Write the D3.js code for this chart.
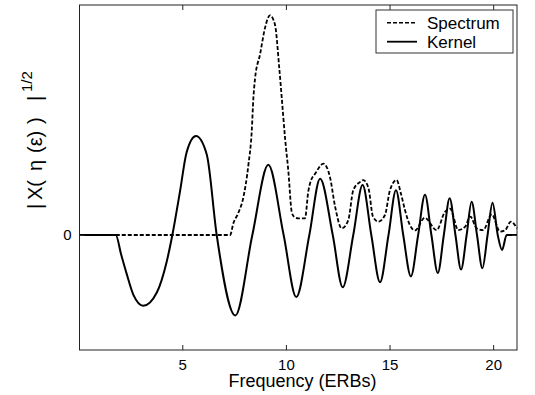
<!DOCTYPE html>
<html>
  <head>
    <meta charset="utf-8">
    <script src="https://cdn.jsdelivr.net/npm/d3@7"></script>
    <style>
      body { margin: 0; background: #fff; }
      text { font-family: "Liberation Sans", Arial, Helvetica, sans-serif; fill: #000; }
    </style>
  </head>
<body>
  <script type="text/javascript">
    // values (x in ERBs, y in arbitrary units)
    var kernel = [
      [0.04, 0], [1.79, 0], [2.05, -0.17], [2.32, -0.34], [2.64, -0.52], [3.12, -0.615],
      [3.77, -0.5], [4.25, -0.23], [4.52, 0], [4.89, 0.38], [5.21, 0.72], [5.66, 0.86],
      [6.18, 0.7], [6.66, 0], [7.56, -0.70], [8.38, 0], [9.15, 0.61], [9.89, 0],
      [10.5, -0.54], [11.13, 0], [11.65, 0.49], [12.26, 0], [12.74, -0.455], [13.25, 0],
      [13.70, 0.435], [14.12, 0], [14.54, -0.41], [14.95, 0], [15.31, 0.39], [15.66, 0],
      [16.03, -0.36], [16.38, 0], [16.71, 0.35], [17.02, 0], [17.33, -0.33], [17.62, 0],
      [17.9, 0.32], [18.18, 0], [18.45, -0.30], [18.72, 0], [18.96, 0.29], [19.22, 0],
      [19.48, -0.29], [19.73, 0], [19.97, 0.28], [20.22, 0], [20.43, -0.13], [20.65, 0],
      [21.15, 0]
    ];

    var spectrum = [
      [1.79, 0], [7.31, 0], [7.46, 0.10], [7.7, 0.19], [7.95, 0.33], [8.19, 0.61],
      [8.35, 0.90], [8.43, 1.19], [8.51, 1.36], [8.75, 1.57], [8.99, 1.80], [9.23, 1.91],
      [9.47, 1.83], [9.68, 1.45], [9.80, 1.19], [9.96, 0.84], [10.12, 0.55], [10.28, 0.20],
      [10.39, 0.16], [10.6, 0.145], [10.92, 0.145], [11.08, 0.38], [11.2, 0.47], [11.4, 0.53],
      [11.81, 0.62], [12.13, 0.50], [12.37, 0.25], [12.69, 0.058], [13.01, 0.13], [13.25, 0.39],
      [13.57, 0.46], [13.73, 0.478], [13.98, 0.41], [14.2, 0.16], [14.46, 0.116], [14.78, 0.174],
      [15.02, 0.39], [15.34, 0.478], [15.55, 0.36], [15.74, 0.22], [15.98, 0.087], [16.23, 0.04],
      [16.7, 0.15], [17.27, 0.043], [17.67, 0.20], [17.92, 0.23], [18.32, 0.043], [18.64, 0.07],
      [18.9, 0.16], [19.2, 0.058], [19.52, 0.043], [19.93, 0.18], [20.33, 0.03], [20.57, 0.04],
      [20.85, 0.116], [21.15, 0.058]
    ];

    var xTicks = [5, 10, 15, 20];
    var yTicks = [0];
    var legendLabels = ["Spectrum", "Kernel"];

    var width = 535,
        height = 395,
        margin = {left: 79.5, top: 5, right: 18, bottom: 45};

    var svg = d3.select("body")
        .append("svg")
          .attr("width", width)
          .attr("height", height);

    var x = d3.scaleLinear()
        .domain([0.04, 21.15])
        .range([margin.left, width - margin.right]);
    var y = d3.scaleLinear()
        .domain([-1, 2])
        .range([height - margin.bottom, margin.top]);

    var line = d3.line()
        .x(function (d) { return x(d[0]); })
        .y(function (d) { return y(d[1]); })
        .curve(d3.curveMonotoneX);

    // curves: spectrum first, kernel on top
    svg.append("path")
        .datum(spectrum)
        .attr("d", line)
        .attr("fill", "none")
        .attr("stroke", "#000")
        .attr("stroke-width", 1.8)
        .attr("stroke-dasharray", "4,2");

    svg.append("path")
        .datum(kernel)
        .attr("d", line)
        .attr("fill", "none")
        .attr("stroke", "#000")
        .attr("stroke-width", 2);

    // axes box with inward ticks on all sides
    var xr = x.range(), yr = y.range();
    svg.append("rect")
        .attr("x", xr[0]).attr("y", yr[1])
        .attr("width", xr[1] - xr[0]).attr("height", yr[0] - yr[1])
        .attr("fill", "none").attr("stroke", "#222").attr("stroke-width", 1);

    var gBottom = svg.append("g")
        .attr("transform", "translate(0," + yr[0] + ")")
        .call(d3.axisBottom(x).tickValues(xTicks).tickSizeInner(-5).tickSizeOuter(0).tickPadding(9));
    var gTop = svg.append("g")
        .attr("transform", "translate(0," + yr[1] + ")")
        .call(d3.axisTop(x).tickValues(xTicks).tickSizeInner(-5).tickSizeOuter(0).tickFormat(""));
    var gLeft = svg.append("g")
        .attr("transform", "translate(" + xr[0] + ",0)")
        .call(d3.axisLeft(y).tickValues(yTicks).tickFormat(d3.format("d"))
          .tickSizeInner(-5).tickSizeOuter(0).tickPadding(8));
    var gRight = svg.append("g")
        .attr("transform", "translate(" + xr[1] + ",0)")
        .call(d3.axisRight(y).tickValues(yTicks).tickSizeInner(-5).tickSizeOuter(0).tickFormat(""));

    [gBottom, gTop, gLeft, gRight].forEach(function (g) {
      g.select(".domain").remove();
      g.selectAll("line").attr("stroke", "#222");
      g.selectAll("text")
          .style("font-family", '"Liberation Sans", Arial, sans-serif')
          .style("font-size", "15px")
          .attr("fill", "#000");
    });

    // x label
    svg.append("text")
        .attr("x", 302.5)
        .attr("y", 387)
        .attr("text-anchor", "middle")
        .style("font-size", "18px")
        .text("Frequency (ERBs)");

    // y label, rotated, built from pieces along its baseline
    var ylab = svg.append("text")
        .attr("transform", "translate(42,208) rotate(-90)")
        .style("font-size", "20px");
    var pieces = [
      {t: "|", x: -1}, {t: "X(", x: 8}, {t: "\u03B7", x: 37}, {t: "(\u03B5)", x: 55},
      {t: ")", x: 84}, {t: "|", x: 107}
    ];
    pieces.forEach(function (p) {
      ylab.append("tspan").attr("x", p.x).attr("y", 0).text(p.t);
    });
    ylab.append("tspan")
        .attr("x", 116).attr("y", -10)
        .style("font-size", "15px")
        .text("1/2");

    // legend
    var leg = svg.append("g");
    leg.append("rect")
        .attr("x", 376).attr("y", 10)
        .attr("width", 137).attr("height", 43)
        .attr("fill", "#fff").attr("stroke", "#333").attr("stroke-width", 1);
    legendLabels.forEach(function (name, i) {
      var ly = 22.7 + i * 19;
      leg.append("line")
          .attr("x1", 387).attr("x2", 417)
          .attr("y1", ly).attr("y2", ly)
          .attr("stroke", "#000")
          .attr("stroke-width", i === 0 ? 1.5 : 1.8)
          .attr("stroke-dasharray", i === 0 ? "4,2" : null);
      leg.append("text")
          .attr("x", 427)
          .attr("y", ly + 6.3)
          .style("font-size", "17px")
          .text(name);
    });
  </script>
</body>
</html>
